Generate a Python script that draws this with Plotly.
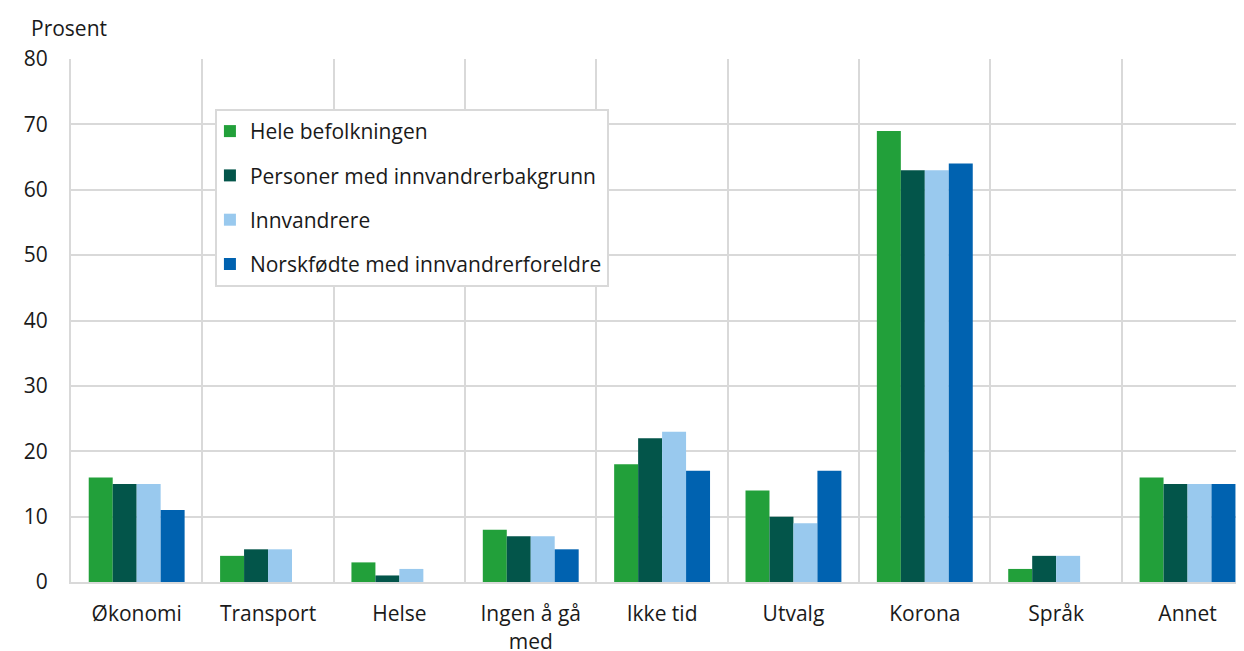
import plotly.graph_objects as go

# Kategorier og verdier (prosent)
kategorier = ["Økonomi", "Transport", "Helse", "Ingen å gå<br>med", "Ikke tid",
              "Utvalg", "Korona", "Språk", "Annet"]
hele_befolkningen = [16, 4, 3, 8, 18, 14, 69, 2, 16]
innvandrerbakgrunn = [15, 5, 1, 7, 22, 10, 63, 4, 15]
innvandrere = [15, 5, 2, 7, 23, 9, 63, 4, 15]
norskfodte = [11, None, None, 5, 17, 17, 64, None, 15]

serier = [
    ("Hele befolkningen", hele_befolkningen, "#22a03a"),
    ("Personer med innvandrerbakgrunn", innvandrerbakgrunn, "#03554a"),
    ("Innvandrere", innvandrere, "#99c9ee"),
    ("Norskfødte med innvandrerforeldre", norskfodte, "#0062b0"),
]

GRID = "#d9d9d9"
TEXT = "#1a1a1a"

fig = go.Figure()
for i, (navn, verdier, farge) in enumerate(serier):
    fig.add_trace(go.Bar(
        x=kategorier, y=verdier, name=navn, legendgroup=str(i),
        marker=dict(color=farge, line=dict(width=0)),
    ))

fig.update_layout(
    barmode="group",
    bargap=0.27,
    bargroupgap=0,
    width=1236,
    height=643,
    margin=dict(l=63, r=0, t=51, b=69),
    plot_bgcolor="white",
    paper_bgcolor="white",
    font=dict(family="Open Sans", size=21, color=TEXT),
    legend=dict(
        x=0.1227, y=0.9045, xanchor="left", yanchor="top",
        bgcolor="white", bordercolor=GRID, borderwidth=2,
        font=dict(size=21), tracegroupgap=14, indentation=-7,
    ),
    xaxis=dict(
        tickson="boundaries", showgrid=True, gridcolor=GRID, gridwidth=2,
        showline=True, linecolor=GRID, linewidth=2,
        range=[-0.5, 8.43], ticks="", tickfont=dict(size=21),
        ticklabelstandoff=12, automargin=False,
    ),
    yaxis=dict(
        range=[0, 80], dtick=10, showgrid=True, gridcolor=GRID, gridwidth=2,
        showline=True, linecolor=GRID, linewidth=2, zeroline=False,
        ticks="", tickfont=dict(size=21), ticklabelstandoff=17,
        automargin=False,
    ),
    annotations=[dict(
        text="Prosent", xref="paper", yref="paper", x=-0.0358, y=1.059,
        xanchor="left", yanchor="middle", showarrow=False,
        font=dict(size=21, color=TEXT),
    )],
)

fig.write_html("out.html")
